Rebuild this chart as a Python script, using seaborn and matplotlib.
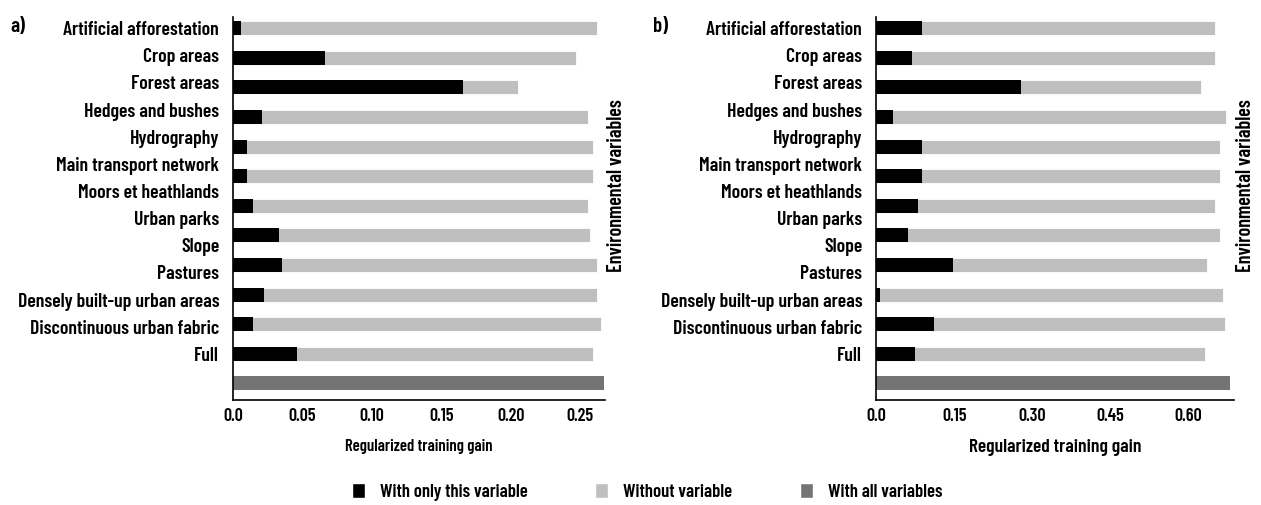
import numpy as np
import pandas as pd
import matplotlib
matplotlib.use("Agg")
import matplotlib.pyplot as plt
from matplotlib.patches import Patch
import seaborn as sns

# variable names shown on the y axis (same for both panels)
var_labels = [
    "Artificial afforestation", "Crop areas", "Forest areas", "Hedges and bushes",
    "Hydrography", "Main transport network", "Moors et heathlands", "Urban parks",
    "Slope", "Pastures", "Densely built-up urban areas", "Discontinuous urban fabric",
    "Full",
]

# panel a) regularized training gain
only_a = [0.006, 0.066, 0.166, 0.021, 0.010, 0.010, 0.0145, 0.033, 0.035, 0.022, 0.0145, 0.046]
without_a = [0.262, 0.247, 0.205, 0.256, 0.259, 0.259, 0.256, 0.257, 0.262, 0.262, 0.265, 0.259]
all_a = 0.2672

# panel b) regularized training gain
only_b = [0.088, 0.070, 0.279, 0.033, 0.088, 0.088, 0.080, 0.061, 0.148, 0.008, 0.112, 0.074]
without_b = [0.650, 0.650, 0.623, 0.672, 0.660, 0.660, 0.650, 0.660, 0.636, 0.665, 0.670, 0.632]
all_b = 0.680

ticks_a = [0.0, 0.05, 0.10, 0.15, 0.20, 0.25]
ticks_b = [0.0, 0.15, 0.30, 0.45, 0.60]

BLACK = "#000000"
LIGHT = "#bfbfbf"
DARK = "#747474"

sns.set_style("white")
plt.rcParams["font.family"] = ["Barlow Condensed", "Fira Sans Condensed", "DejaVu Sans"]
plt.rcParams["font.weight"] = 600
plt.rcParams["axes.labelweight"] = 600
plt.rcParams["text.color"] = "black"
plt.rcParams["xtick.color"] = "black"
plt.rcParams["ytick.color"] = "black"
plt.rcParams["axes.labelcolor"] = "black"

rows = [f"r{i}" for i in range(len(only_a) + 1)]


def draw_panel(ax, only, without, all_val, ticks, xmax, xlabel_size):
    d_without = pd.DataFrame({"row": rows[:-1], "gain": without})
    d_only = pd.DataFrame({"row": rows[:-1], "gain": only})
    d_all = pd.DataFrame({"row": rows[-1:], "gain": [all_val]})
    sns.barplot(data=d_without, x="gain", y="row", order=rows, color=LIGHT,
                width=0.47, saturation=1, ax=ax, edgecolor="white", linewidth=0.6)
    sns.barplot(data=d_only, x="gain", y="row", order=rows, color=BLACK,
                width=0.47, saturation=1, ax=ax, linewidth=0)
    sns.barplot(data=d_all, x="gain", y="row", order=rows, color=DARK,
                width=0.47, saturation=1, ax=ax, linewidth=0)

    ax.set_ylim(len(rows) - 1 + 0.56, -0.37)
    ax.set_xlim(0, xmax)
    # the labels are spread a bit tighter than the bars, as in the source figure
    ax.set_yticks(np.linspace(0, 11.0, len(var_labels)))
    ax.set_yticklabels(var_labels, fontsize=14.2)
    ax.set_xticks(ticks)
    ax.set_xticklabels([("%.2f" % t) if t else "0.0" for t in ticks], fontsize=13)
    ax.tick_params(axis="x", direction="in", length=9, width=1, pad=6)
    ax.tick_params(axis="y", length=0, pad=10)
    ax.set_ylabel("")
    ax.set_xlabel("Regularized training gain", fontsize=xlabel_size, labelpad=10)
    for side in ["top", "right"]:
        ax.spines[side].set_visible(False)
    for side in ["left", "bottom"]:
        ax.spines[side].set_color("black")
        ax.spines[side].set_linewidth(1.2)
    ax.text(1.032, 0.56, "Environmental variables", transform=ax.transAxes,
            rotation=90, ha="center", va="center", fontsize=14.5)
    return ax


fig = plt.figure(figsize=(12.61, 5.05), dpi=100)
ax_a = fig.add_axes([0.1848, 0.208, 0.295, 0.758])
ax_b = fig.add_axes([0.6947, 0.208, 0.2839, 0.758])

draw_panel(ax_a, only_a, without_a, all_a, ticks_a, 0.268, 12)
draw_panel(ax_b, only_b, without_b, all_b, ticks_b, 0.687, 14)

fig.text(18 / 1261, 1 - 26 / 505, "a)", fontsize=15, ha="center", va="center")
fig.text(661 / 1261, 1 - 26 / 505, "b)", fontsize=15, ha="center", va="center")

handles = [
    Patch(facecolor=BLACK, label="With only this variable"),
    Patch(facecolor=LIGHT, label="Without variable"),
    Patch(facecolor=DARK, label="With all variables"),
]
fig.legend(handles=handles, loc="center", bbox_to_anchor=(647 / 1261, 1 - 492 / 505),
           ncol=3, frameon=False, fontsize=13.5, handlelength=0.7, handleheight=0.9,
           handletextpad=0.8, columnspacing=3.6)

fig.savefig("out.png", dpi=100)
